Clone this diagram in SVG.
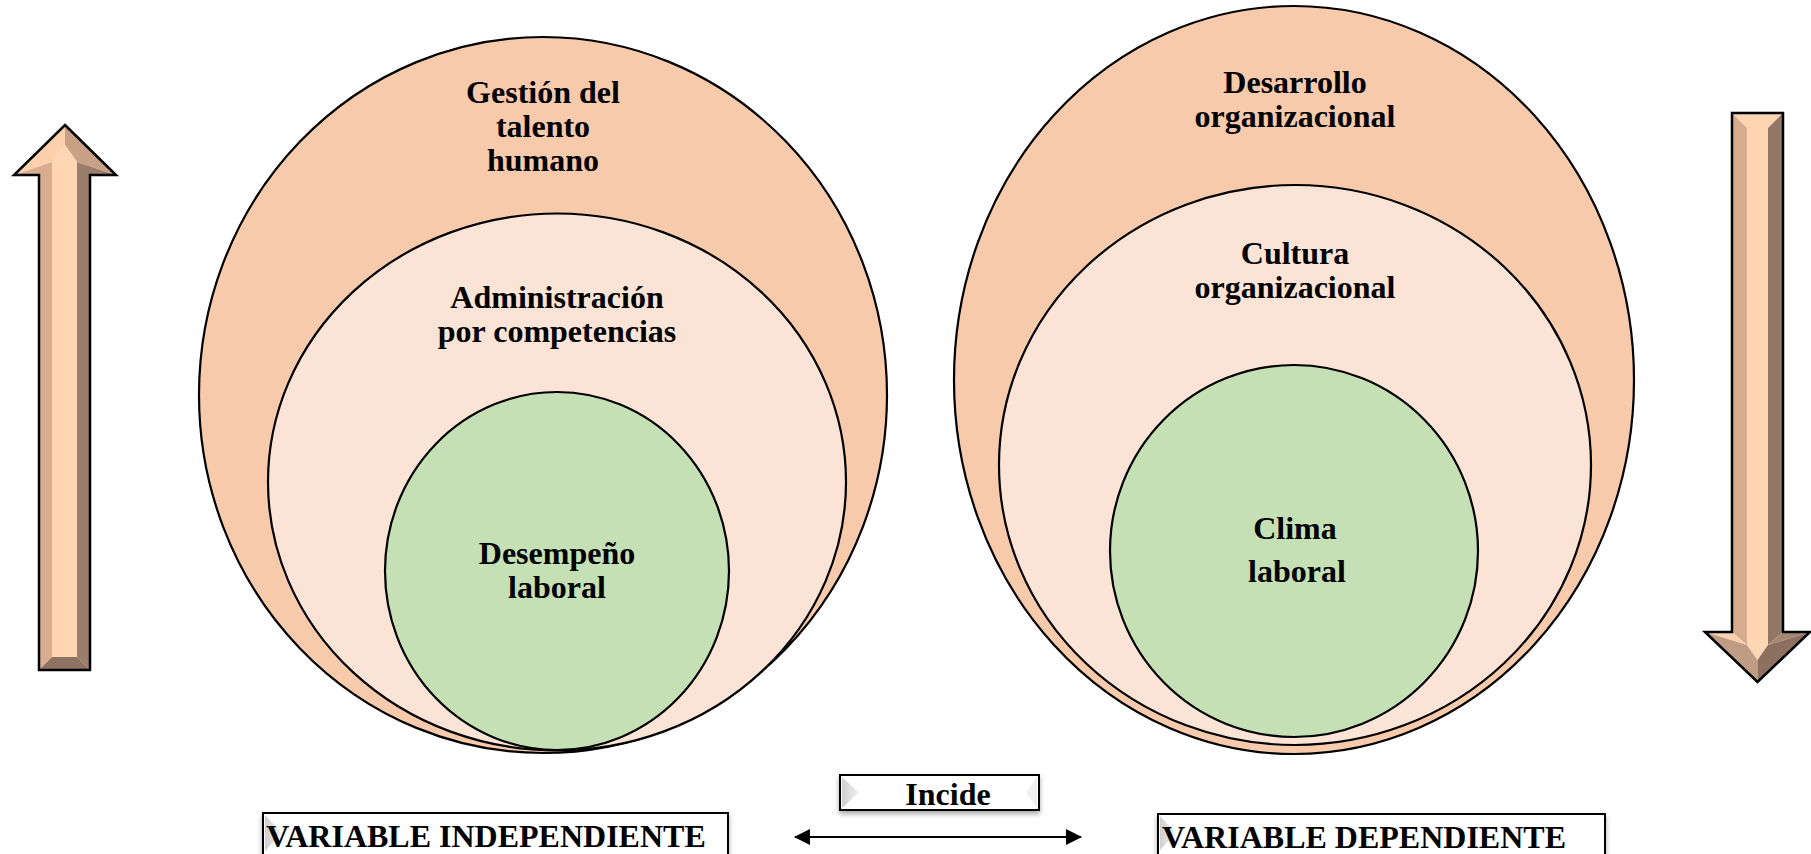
<svg xmlns="http://www.w3.org/2000/svg" width="1811" height="854" viewBox="0 0 1811 854">
<defs>
<style>
.outer{fill:#f7caac;stroke:#000;stroke-width:2.2}
.mid{fill:#fbe4d5;stroke:#000;stroke-width:2.2}
.inner{fill:#c5e0b4;stroke:#000;stroke-width:2.2}
.lbl{font-family:"Liberation Serif","Times New Roman",serif;font-weight:bold;font-size:32px;fill:#000;text-anchor:middle}
.box{fill:#fff;stroke:#000;stroke-width:2}
.arrowOutline{fill:none;stroke:#000;stroke-width:2.5;stroke-linejoin:miter}
</style>
<filter id="shadow" x="-10%" y="-30%" width="120%" height="180%">
<feDropShadow dx="0" dy="3" stdDeviation="2.5" flood-color="#000" flood-opacity="0.35"/>
</filter>
<linearGradient id="bevelL" x1="0" y1="0" x2="1" y2="0">
<stop offset="0" stop-color="#cfcfcf"/>
<stop offset="1" stop-color="#f2f2f2"/>
</linearGradient>
<marker id="ah" viewBox="0 0 16 16" refX="15" refY="8" markerWidth="16" markerHeight="16" markerUnits="userSpaceOnUse" orient="auto-start-reverse">
<path d="M0,0 L16,8 L0,16 Z" fill="#000"/>
</marker>
</defs>

<g id="arrow-up">
<polygon points="65,125 14,175 52,162 65,145" fill="#fbd0ad"/>
<polygon points="65,125 116,175 77,162 65,145" fill="#c8a086"/>
<polygon points="65,145 77,162 77,657 52,657 52,162" fill="#fed6b4"/>
<polygon points="14,175 52,162 52,657 39,670 39,175" fill="#d8ad8f"/>
<polygon points="116,175 77,162 77,657 90,670 90,175" fill="#9b7d6c"/>
<polygon points="39,670 52,657 77,657 90,670" fill="#8e7363"/>
<polygon class="arrowOutline" points="65,125 116,175 90,175 90,670 39,670 39,175 14,175"/>
</g>

<g id="arrow-down">
<polygon points="1732,113 1783,113 1768,128 1747,128" fill="#fcd4b2"/>
<polygon points="1747,128 1768,128 1768,645 1757.5,660 1747,645" fill="#fed6b4"/>
<polygon points="1732,113 1747,128 1747,645 1732,632" fill="#d6ab8e"/>
<polygon points="1783,113 1768,128 1768,645 1783,632" fill="#927767"/>
<polygon points="1705,632 1732,632 1747,645" fill="#fbd0ad"/>
<polygon points="1810,632 1783,632 1768,645" fill="#a58773"/>
<polygon points="1705,632 1747,645 1757.5,660 1757.5,682" fill="#c09c84"/>
<polygon points="1810,632 1768,645 1757.5,660 1757.5,682" fill="#8c7161"/>
<polygon class="arrowOutline" points="1732,113 1783,113 1783,632 1810,632 1757.5,682 1705,632 1732,632"/>
</g>

<g id="gestion-talento-humano">
<ellipse class="outer" cx="543" cy="395" rx="344" ry="358"/>
<text class="lbl" x="543" y="103">Gestión del</text>
<text class="lbl" x="543" y="137">talento</text>
<text class="lbl" x="543" y="171">humano</text>
</g>
<g id="administracion-competencias">
<ellipse class="mid" cx="557" cy="482" rx="289" ry="268.5"/>
<text class="lbl" x="557" y="308">Administración</text>
<text class="lbl" x="557" y="342">por competencias</text>
</g>
<g id="desempeno-laboral">
<ellipse class="inner" cx="557" cy="571" rx="172" ry="179"/>
<text class="lbl" x="557" y="564">Desempeño</text>
<text class="lbl" x="557" y="598">laboral</text>
</g>

<g id="desarrollo-organizacional">
<ellipse class="outer" cx="1294" cy="380" rx="340" ry="374"/>
<text class="lbl" x="1295" y="93">Desarrollo</text>
<text class="lbl" x="1295" y="127">organizacional</text>
</g>
<g id="cultura-organizacional">
<ellipse class="mid" cx="1295" cy="465" rx="296" ry="280"/>
<text class="lbl" x="1295" y="264">Cultura</text>
<text class="lbl" x="1295" y="298">organizacional</text>
</g>
<g id="clima-laboral">
<ellipse class="inner" cx="1294" cy="551" rx="184" ry="186"/>
<text class="lbl" x="1295" y="539">Clima</text>
<text class="lbl" x="1297" y="582">laboral</text>
</g>

<g id="variable-independiente">
<rect class="box" x="263" y="813" width="465" height="50" filter="url(#shadow)"/>
<polygon points="265,815 282,833 265,851" fill="url(#bevelL)"/>
<text class="lbl" x="486" y="847">VARIABLE INDEPENDIENTE</text>
</g>

<g id="incide">
<rect class="box" x="840" y="775" width="199" height="35" filter="url(#shadow)"/>
<polygon points="842,777 859,792.5 842,808" fill="url(#bevelL)"/>
<polygon points="1037,777 1026,792.5 1037,808" fill="#efefef"/>
<text class="lbl" x="948" y="805">Incide</text>
</g>

<g id="variable-dependiente">
<rect class="box" x="1158" y="814" width="447" height="50" filter="url(#shadow)"/>
<polygon points="1160,816 1176,833 1160,850" fill="url(#bevelL)"/>
<text class="lbl" x="1364" y="848">VARIABLE DEPENDIENTE</text>
</g>

<g id="connectors">
<line x1="795" y1="837" x2="1081" y2="837" stroke="#000" stroke-width="2" marker-start="url(#ah)" marker-end="url(#ah)"/>
</g>
</svg>
